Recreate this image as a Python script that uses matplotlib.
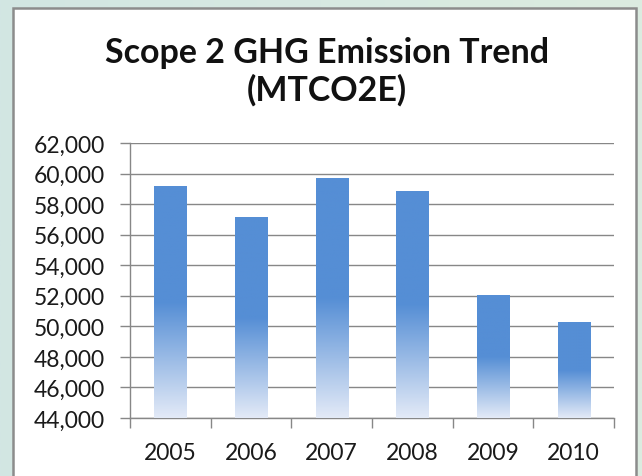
import numpy as np
import matplotlib
matplotlib.use("Agg")
import matplotlib.pyplot as plt
from matplotlib.colors import LinearSegmentedColormap
from matplotlib.patches import Rectangle
from matplotlib.ticker import FuncFormatter, MultipleLocator

years = ["2005", "2006", "2007", "2008", "2009", "2010"]
emissions = [59170, 57130, 59730, 58860, 52050, 50260]

title = "Scope 2 GHG Emission Trend\n(MTCO2E)"
y_min, y_max, y_step = 44000, 62000, 2000

plt.rcParams['font.family'] = ['Lato', 'DejaVu Sans']

W, H = 642, 477
fig = plt.figure(figsize=(W / 100, H / 100), dpi=100)

# background (pale teal-green) behind the white chart panel
bg = fig.add_axes([0, 0, 1, 1], zorder=-10)
bg_cmap = LinearSegmentedColormap.from_list("bg", ["#d2e6e3", "#dcece0"])
bg.imshow(np.linspace(0, 1, 256)[None, :], cmap=bg_cmap, aspect="auto", extent=[0, 1, 0, 1])
bg.add_patch(Rectangle((13 / W, -0.1), (636 - 13) / W, 1.1 - 9 / H,
                       facecolor="white", edgecolor="#8c8c8c", linewidth=1.8))
bg.set_xlim(0, 1)
bg.set_ylim(0, 1)
bg.axis("off")

ax = fig.add_axes([130 / W, 1 - 419 / H, (614 - 130) / W, (419 - 144) / H])
ax.set_facecolor("none")

x = np.arange(len(years))
bars = ax.bar(x, emissions, width=0.4, bottom=0, color="none", edgecolor="none", zorder=3)

# vertical gradient: solid blue on top half, fading to pale at the base
bar_cmap = LinearSegmentedColormap.from_list(
    "bar", [(0.0, "#e3eaf7"), (0.5, "#558ed5"), (1.0, "#558ed5")])
grad = np.linspace(0, 1, 256)[:, None]
for b in bars:
    x0, w, h = b.get_x(), b.get_width(), b.get_height()
    im = ax.imshow(grad, cmap=bar_cmap, origin="lower", aspect="auto",
                   extent=[x0, x0 + w, y_min, h], zorder=3)
    im.set_clip_path(b)

ax.set_xlim(-0.5, len(years) - 0.5)
ax.set_ylim(y_min, y_max)
ax.yaxis.set_major_locator(MultipleLocator(y_step))
ax.yaxis.set_major_formatter(FuncFormatter(lambda v, p: f"{int(v):,}"))
ax.grid(axis="y", color="#878787", linewidth=1.0, zorder=1)
ax.set_axisbelow(True)

ax.set_xticks(x)
ax.set_xticklabels(years)
ax.set_xticks(np.arange(len(years) + 1) - 0.5, minor=True)
ax.tick_params(axis="x", which="major", length=0, pad=17, labelsize=16.5, colors="#1a1a1a")
ax.tick_params(axis="x", which="minor", length=7, width=1.0, color="#878787", direction="out")
ax.tick_params(axis="y", length=7, width=1.0, color="#878787", pad=11, labelsize=16.5,
               labelcolor="#1a1a1a", direction="out")

for side in ["top", "right"]:
    ax.spines[side].set_visible(False)
for side in ["left", "bottom"]:
    ax.spines[side].set_color("#878787")
    ax.spines[side].set_linewidth(1.0)

fig.text(327 / W, 1 - 72 / H, title, ha="center", va="center", multialignment="center",
         fontsize=24.5, fontweight="bold", color="#111111", linespacing=1.2)

fig.savefig("out.png", dpi=100)
